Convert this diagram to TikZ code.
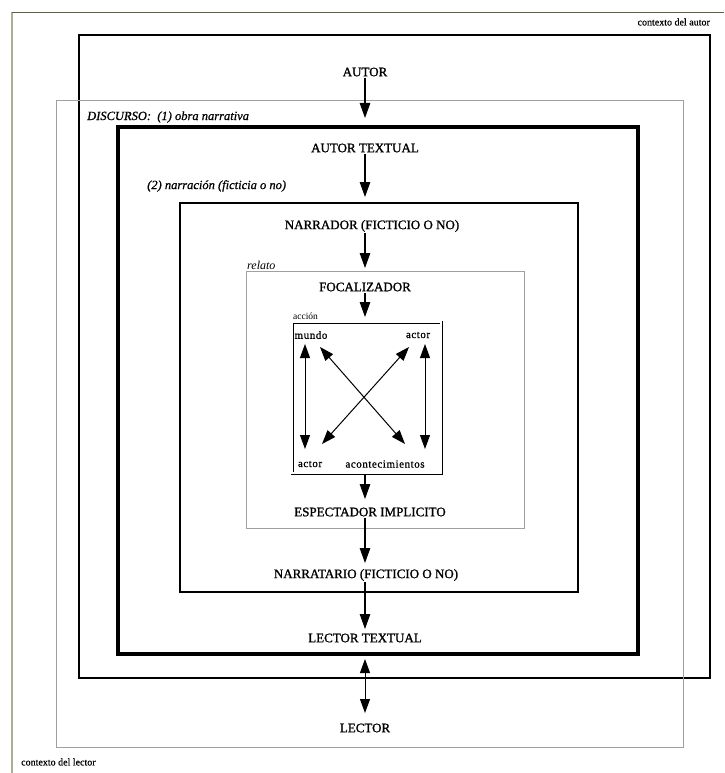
\documentclass[tikz,border=0pt]{standalone}
\usepackage{fontspec}
\setmainfont{Liberation Serif}
\usetikzlibrary{arrows.meta,positioning,calc}
\definecolor{marcocolor}{RGB}{95,93,70}
\definecolor{marcoclaro}{RGB}{175,173,150}
\definecolor{cajagris}{RGB}{160,160,160}

\begin{document}
\begin{tikzpicture}[x=1pt,y=-1pt,
  rotulo/.style={font=\fontsize{13}{15}\selectfont\addfontfeatures{FakeBold=1.2}, inner sep=1pt},
  etiqueta/.style={font=\fontsize{12.5}{14}\selectfont\itshape\addfontfeatures{FakeBold=0.8}, inner sep=1pt},
  chico/.style={font=\fontsize{11}{12}\selectfont\addfontfeatures{LetterSpace=5,FakeBold=0.8}, inner sep=1pt},
  contexto/.style={font=\fontsize{10}{11}\selectfont\addfontfeatures{FakeBold=0.6}, inner sep=1pt},
  flecha/.style={-{Triangle[width=10.5pt,length=15pt]}, line width=1.1pt},
  flechadoble/.style={{Triangle[width=10pt,length=14pt]}-{Triangle[width=10pt,length=14pt]}, line width=1pt}
]
\useasboundingbox (0,0) rectangle (724,773);

% ---- Page frame ----
\draw[marcoclaro, line width=1.2pt] (12,773) -- (12,12.5);
\draw[marcocolor, line width=1.5pt] (12,12.5) -- (724,12.5);

% ---- Context boxes ----
\draw[black, line width=1.3pt] (79,35) rectangle (710,678);
\draw[cajagris, line width=0.8pt] (56,100) rectangle (683,747);
\node[contexto, anchor=east] (ctxautor) at (711,22) {contexto del autor};
\node[contexto, anchor=west] (ctxlector) at (20,762) {contexto del lector};

% ---- Nested boxes ----
\draw[line width=4pt] (118,127) rectangle (638,654);
\draw[line width=2.2pt] (180,203) rectangle (578,592);
\draw[cajagris, line width=1pt] (246,271) rectangle (524,528);
\draw[line width=0.8pt, double, double distance=1.4pt] (292,322) rectangle (441,473);

% ---- Box labels ----
\node[etiqueta, anchor=west] (discurso) at (86,117) {DISCURSO:\ \ (1) obra narrativa};
\node[etiqueta, anchor=west] (narracion) at (146,186) {(2) narración (ficticia o no)};
\node[etiqueta, font=\fontsize{12}{13}\selectfont\itshape, anchor=south west] (relato) at (246,271) {relato};
\node[chico, font=\fontsize{9.5}{11}\selectfont, anchor=south west] (accion) at (292,321) {acción};

% ---- Instances ----
\node[rotulo] (autor) at (365,72) {AUTOR};
\node[rotulo] (autortextual) at (365,148) {AUTOR TEXTUAL};
\node[rotulo] (narrador) at (372,226) {NARRADOR (FICTICIO O NO)};
\node[rotulo] (focalizador) at (365,287) {FOCALIZADOR};
\node[rotulo] (espectador) at (370,512) {ESPECTADOR IMPLICITO};
\node[rotulo] (narratario) at (366,575) {NARRATARIO (FICTICIO O NO)};
\node[rotulo] (lectortextual) at (365,638) {LECTOR TEXTUAL};
\node[rotulo] (lector) at (365,728) {LECTOR};

% ---- Action elements ----
\node[chico] (mundo) at (311,335) {mundo};
\node[chico] (actorarr) at (418,335) {actor};
\node[chico] (actorab) at (310,464) {actor};
\node[chico] (aconte) at (385,464) {acontecimientos};

% ---- Arrow ends ----
\coordinate (t1) at (365,118);
\coordinate (t2) at (365,197);
\coordinate (t3) at (365,268);
\coordinate (t4) at (365,317);
\coordinate (s5) at (365,474);
\coordinate (t5) at (365,499);
\coordinate (t6) at (365,563);
\coordinate (t7) at (365,629);
\coordinate (s8) at (365,659);
\coordinate (t8) at (365,713);

% ---- Chain of arrows ----
\draw[flecha] (autor.south) -- (t1);
\draw[flecha] (autortextual.south) -- (t2);
\draw[flecha] (t3 |- narrador.south) -- (t3);
\draw[flecha] (focalizador.south) -- (t4);
\draw[flecha] (s5) -- (t5);
\draw[flecha] (t6 |- espectador.south) -- (t6);
\draw[flecha] (t7 |- narratario.south) -- (t7);
\draw[flechadoble] (s8) -- (t8);

% ---- Cross of relations ----
\coordinate (a1) at (305,344);
\coordinate (a2) at (305,449);
\coordinate (b1) at (425,344);
\coordinate (b2) at (425,449);
\coordinate (c1) at (320,347);
\coordinate (c2) at (405,444);
\coordinate (d1) at (409,347);
\coordinate (d2) at (322,444);
\draw[flechadoble] (a1) -- (a2);
\draw[flechadoble] (b1) -- (b2);
\draw[flechadoble] (c1) -- (c2);
\draw[flechadoble] (d1) -- (d2);

\end{tikzpicture}
\end{document}
